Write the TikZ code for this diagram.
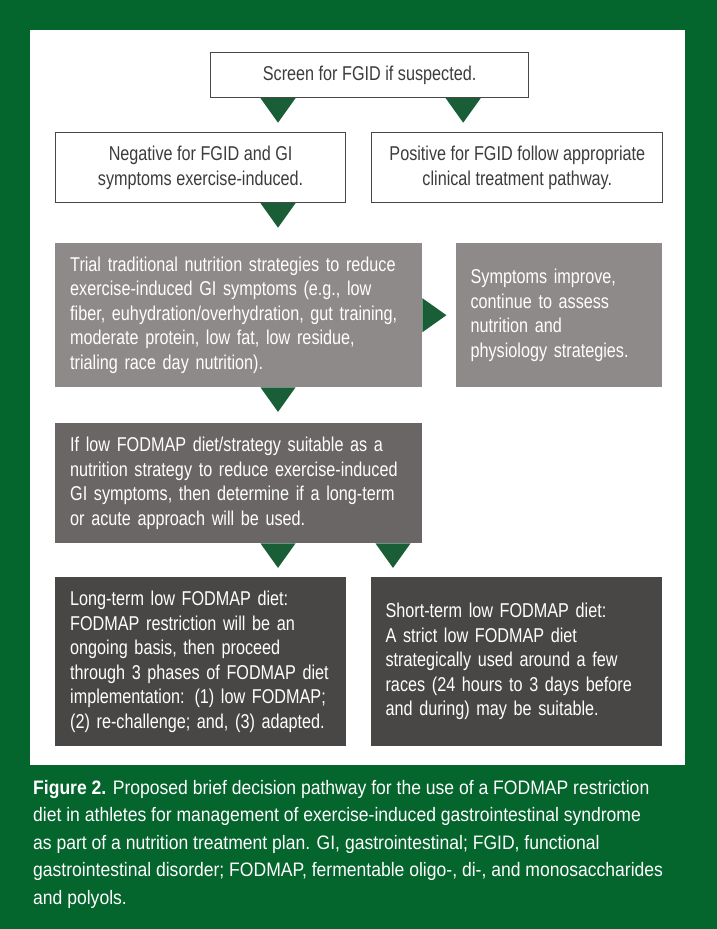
\documentclass[tikz,border=0pt]{standalone}
\usepackage{fontspec}
\setmainfont{Liberation Sans}[FakeStretch=0.81]
\newfontfamily\capfamily{Liberation Sans}[FakeStretch=0.9]
\usepackage{xcolor}
\definecolor{cBg}{HTML}{04652D}
\definecolor{cArrow}{HTML}{195E37}
\definecolor{cLine}{HTML}{474747}
\definecolor{cText}{HTML}{3C3C3C}
\definecolor{cGrayA}{HTML}{8E8A89}
\definecolor{cGrayB}{HTML}{6A6665}
\definecolor{cGrayC}{HTML}{484746}
\usetikzlibrary{positioning,calc}
\newcommand\boxtxt{\fontsize{20}{24.5}\selectfont}
\newcommand\captxt{\capfamily\fontsize{19.5}{27.5}\selectfont}
\tikzset{
  node-white/.style={draw=cLine,line width=1.2pt,fill=white,text=cText,
    anchor=north west,align=center,inner sep=0pt,font=\boxtxt},
  node-gray/.style={anchor=north west,align=left,text=white,inner ysep=0pt,
    inner xsep=15pt,font=\boxtxt},
  node-light/.style={node-gray,fill=cGrayA},
  node-mid/.style={node-gray,fill=cGrayB},
  node-dark/.style={node-gray,fill=cGrayC},
  pics/tri-down/.style={code={\fill[cArrow] (-17.5,0) -- (17.5,0) -- (0,24.5) -- cycle;}},
  pics/tri-right/.style={code={\fill[cArrow] (0,-17) -- (0,17) -- (24,0) -- cycle;}},
}

\begin{document}
\begin{tikzpicture}[x=1pt,y=-1pt]
  % frame
  \fill[cBg] (0,0) rectangle (717,929);
  \fill[white] (30,30) rectangle (685,765);
  \useasboundingbox (0,0) rectangle (717,929);

  \node[node-white,minimum width=318,minimum height=45] (scr) at (210,52)
    {Screen for FGID if suspected.};
  \node[node-white,minimum width=290,minimum height=70] (neg) at (55,132)
    {Negative for FGID and GI\\symptoms exercise-induced.};
  \node[node-white,minimum width=291,minimum height=70,right=25pt of neg] (pos)
    {Positive for FGID follow appropriate\\clinical treatment pathway.};

  \node[node-light,text width=337,minimum height=144] (trial) at (55,243)
    {Trial traditional nutrition strategies to reduce\\
     exercise-induced GI symptoms (e.g., low\\
     fiber, euhydration/overhydration, gut training,\\
     moderate protein, low fat, low residue,\\
     trialing race day nutrition).};
  \node[node-light,text width=176,minimum height=144,right=33pt of trial] (impr)
    {Symptoms improve,\\continue to assess\\nutrition and\\physiology strategies.};

  \node[node-mid,text width=337,minimum height=120] (lowf) at (55,423)
    {If low FODMAP diet/strategy suitable as a\\
     nutrition strategy to reduce exercise-induced\\
     GI symptoms, then determine if a long-term\\
     or acute approach will be used.};

  \node[node-dark,text width=261,minimum height=169] (longt) at (55,577)
    {Long-term low FODMAP diet:\\
     FODMAP restriction will be an\\
     ongoing basis, then proceed\\
     through 3 phases of FODMAP diet\\
     implementation: (1) low FODMAP;\\
     (2) re-challenge; and, (3) adapted.};
  \node[node-dark,text width=261,minimum height=169,right=24pt of longt] (shortt)
    {Short-term low FODMAP diet:\\
     A strict low FODMAP diet\\
     strategically used around a few\\
     races (24 hours to 3 days before\\
     and during) may be suitable.};

  % arrow heads
  \pic at ([xshift=68pt]scr.south west) {tri-down};
  \pic at ([xshift=-66pt]scr.south east) {tri-down};
  \pic at ([xshift=223pt]neg.south west) {tri-down};
  \pic at (trial.east) {tri-right};
  \pic at ([xshift=223pt]trial.south west) {tri-down};
  \pic at ([xshift=223pt]lowf.south west) {tri-down};
  \pic at ([xshift=338pt]lowf.south west) {tri-down};

  \node[anchor=north west,align=left,inner sep=0pt,text=white,font=\captxt] (cap) at (33,780)
    {\textbf{Figure 2.} Proposed brief decision pathway for the use of a FODMAP restriction\\
     diet in athletes for management of exercise-induced gastrointestinal syndrome\\
     as part of a nutrition treatment plan. GI, gastrointestinal; FGID, functional\\
     gastrointestinal disorder; FODMAP, fermentable oligo-, di-, and monosaccharides\\
     and polyols.};
\end{tikzpicture}
\end{document}
